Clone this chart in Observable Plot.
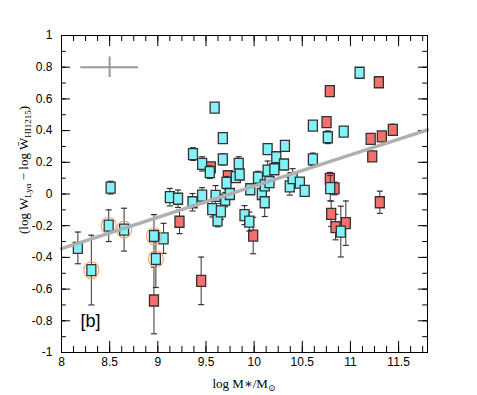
<!DOCTYPE html>
<html><head><meta charset="utf-8">
<script src="https://cdn.jsdelivr.net/npm/d3@7"></script>
<script src="https://cdn.jsdelivr.net/npm/@observablehq/plot@0.6"></script>
<style>html,body{margin:0;padding:0;background:#fff;}</style>
</head><body><div id="chart"></div>
<script>
// ---- data ----
const cyanX = [8.17,8.31,8.49,8.51,8.65,8.96,8.98,9.06,9.125,9.21,9.365,9.36,9.46,9.46,9.54,9.565,9.59,9.60,9.62,9.655,9.675,9.675,9.70,9.713,9.748,9.81,9.84,9.85,9.90,9.95,9.96,10.04,10.08,10.11,10.11,10.14,10.14,10.16,10.21,10.23,10.31,10.32,10.37,10.40,10.475,10.525,10.61,10.61,10.765,10.79,10.90,10.93,11.095];
const cyanY = [-0.34,-0.48,-0.20,0.04,-0.225,-0.265,-0.41,-0.28,-0.02,-0.03,0.252,-0.052,0.19,-0.01,0.138,-0.095,0.545,-0.012,-0.167,-0.11,0.352,0.218,-0.035,0.07,0.0,0.106,0.19,0.123,-0.133,-0.174,0.03,0.103,0.0,0.054,-0.052,0.283,0.148,0.075,0.156,0.232,0.186,0.303,0.048,0.10,0.072,0.02,0.218,0.432,0.358,0.037,-0.237,0.394,0.765];
const cyanErr = [0.10,0.22,0.10,0.04,0.135,0.135,0.18,0.095,0.055,0.055,0.04,0.055,0.045,0.05,0.04,0.05,0.02,0.065,0.04,0.05,0.02,0.035,0.045,0.04,0.03,0.03,0.045,0.03,0.06,0.06,0.03,0.04,0.03,0.03,0.09,0.03,0.06,0.03,0.03,0.03,0.03,0.03,0.055,0.06,0.03,0.03,0.04,0.02,0.04,0.08,0.16,0.02,0.02];
const redX = [8.96,9.225,9.45,9.55,9.727,9.99,10.752,10.786,10.786,10.835,10.80,10.845,10.952,11.21,11.226,11.295,11.305,11.326,11.44];
const redY = [-0.672,-0.175,-0.548,0.168,0.112,-0.262,0.453,0.649,0.096,0.035,-0.125,-0.209,-0.184,0.348,0.237,0.705,-0.052,0.363,0.405];
const redErr = [0.21,0.075,0.15,0.03,0.03,0.115,0.03,0.02,0.04,0.04,0.08,0.08,0.14,0.02,0.02,0.02,0.07,0.02,0.035];
const circledX = [8.31,8.49,8.65,8.96,8.98];
const circledY = [-0.48,-0.20,-0.225,-0.265,-0.41];
const fitX = [8.0, 11.8];
const fitY = [-0.345, 0.405];
const crossX = [8.5], crossY = [0.8], crossDx = [0.3], crossDy = [0.065];
const panelLabel = ["[b]"], panelX = [8.3], panelY = [-0.8];
const xTicks = [8,8.5,9,9.5,10,10.5,11,11.5];
const yTicks = [-1,-0.8,-0.6,-0.4,-0.2,0,0.2,0.4,0.6,0.8,1];
const xMinor = d3.range(0,31).map(i => 8 + i*0.125).filter(v => v <= 11.8);
const yMinor = d3.range(0,21).map(i => -1 + i*0.1);

// ---- tables ----
const cyan = cyanX.map((x,i)=>({x, y: cyanY[i], e: cyanErr[i]}));
const red = redX.map((x,i)=>({x, y: redY[i], e: redErr[i]}));
const circled = circledX.map((x,i)=>({x, y: circledY[i]}));
const fit = fitX.map((x,i)=>({x, y: fitY[i]}));
const cross = crossX.map((x,i)=>({x, y: crossY[i], dx: crossDx[i], dy: crossDy[i]}));
const panel = panelLabel.map((t,i)=>({t, x: panelX[i], y: panelY[i]}));

// ---- symbols ----
const rectSym = {draw(ctx){ ctx.moveTo(-4.5,-5.5); ctx.lineTo(4.5,-5.5); ctx.lineTo(4.5,5.5); ctx.lineTo(-4.5,5.5); ctx.closePath(); }};
const capSym = {draw(ctx){ ctx.moveTo(-3,0); ctx.lineTo(3,0); }};
const ellSym = {draw(ctx){
  const rx = 7.5, ry = 8.5, k = 0.5523;
  ctx.moveTo(rx,0);
  ctx.bezierCurveTo(rx, k*ry, k*rx, ry, 0, ry);
  ctx.bezierCurveTo(-k*rx, ry, -rx, k*ry, -rx, 0);
  ctx.bezierCurveTo(-rx, -k*ry, -k*rx, -ry, 0, -ry);
  ctx.bezierCurveTo(k*rx, -ry, rx, -k*ry, rx, 0);
  ctx.closePath();
}};

const errMarks = (data) => [
  Plot.ruleX(data, {x: "x", y1: d => d.y - d.e, y2: d => d.y + d.e, stroke: "#333", strokeWidth: 1}),
  Plot.dot(data, {x: "x", y: d => d.y - d.e, symbol: capSym, stroke: "#333", strokeWidth: 1.2, fill: "none"}),
  Plot.dot(data, {x: "x", y: d => d.y + d.e, symbol: capSym, stroke: "#333", strokeWidth: 1.2, fill: "none"})
];

const cyanFill = "#80f2f8", redFill = "#f4706a";

const svg = Plot.plot({
  width: 477, height: 395,
  marginLeft: 61, marginRight: 50, marginTop: 35, marginBottom: 43,
  x: {domain: [8, 11.8]},
  y: {domain: [-1, 1]},
  style: {fontFamily: "'Liberation Sans', Arial, sans-serif", fontSize: "12px", background: "#fff", color: "#000"},
  marks: [
    // inward ticks on all four sides
    Plot.ruleX(xMinor, {x: d => d, y1: -1, y2: -1 + 0.038, stroke: "#000"}),
    Plot.ruleX(xMinor, {x: d => d, y1: 1, y2: 1 - 0.038, stroke: "#000"}),
    Plot.ruleX(xTicks, {x: d => d, y1: -1, y2: -1 + 0.07, stroke: "#000"}),
    Plot.ruleX(xTicks, {x: d => d, y1: 1, y2: 1 - 0.07, stroke: "#000"}),
    Plot.ruleY(yMinor, {y: d => d, x1: 8, x2: 8 + 0.05, stroke: "#000"}),
    Plot.ruleY(yMinor, {y: d => d, x1: 11.8, x2: 11.8 - 0.05, stroke: "#000"}),
    Plot.ruleY(yTicks, {y: d => d, x1: 8, x2: 8 + 0.093, stroke: "#000"}),
    Plot.ruleY(yTicks, {y: d => d, x1: 11.8, x2: 11.8 - 0.093, stroke: "#000"}),
    Plot.axisX(xTicks, {tickSize: 0, tickPadding: 5, tickFormat: d => String(d), label: null}),
    Plot.axisY(yTicks, {tickSize: 0, tickPadding: 9, tickFormat: d => String(d), label: null}),
    // error cross
    Plot.ruleY(cross, {y: "y", x1: d => d.x - d.dx, x2: d => d.x + d.dx, stroke: "#999", strokeWidth: 2}),
    Plot.ruleX(cross, {x: "x", y1: d => d.y - d.dy, y2: d => d.y + d.dy, stroke: "#999", strokeWidth: 2}),
    // red points
    ...errMarks(red),
    Plot.dot(red, {x: "x", y: "y", symbol: rectSym, fill: redFill, stroke: "#333", strokeWidth: 1.3, fillOpacity: 1}),
    // cyan points
    ...errMarks(cyan),
    Plot.dot(cyan, {x: "x", y: "y", symbol: rectSym, fill: cyanFill, stroke: "#333", strokeWidth: 1.3, fillOpacity: 1}),
    Plot.dot(circled, {x: "x", y: "y", symbol: ellSym, fill: "none", stroke: "#f2a06a", strokeWidth: 1.1}),
    // fit line
    Plot.line(fit, {x: "x", y: "y", stroke: "#b0b0b0", strokeWidth: 3.5}),
    Plot.text(panel, {x: "x", y: "y", text: "t", fontSize: 18, fill: "#000"}),
    Plot.frame({stroke: "#000", strokeWidth: 1})
  ]
});

const s = d3.select(svg);
// y-axis title
const yt = s.append("text")
  .attr("transform", "translate(28,170) rotate(-90)")
  .attr("text-anchor", "middle")
  .attr("font-family", "'Liberation Serif', 'DejaVu Serif', serif")
  .attr("font-size", 13)
  .attr("fill", "#000");
yt.append("tspan").text("(log W");
yt.append("tspan").attr("font-size", 9).attr("dy", 3).text("Lyα");
yt.append("tspan").attr("dy", -3).text(" − log W\u0304");
yt.append("tspan").attr("font-size", 9).attr("dy", 3).text("HI1215");
yt.append("tspan").attr("dy", -3).text(")");
// x-axis title
const xt = s.append("text")
  .attr("x", 244).attr("y", 388)
  .attr("text-anchor", "middle")
  .attr("font-family", "'Liberation Serif', 'DejaVu Serif', serif")
  .attr("font-size", 13)
  .attr("fill", "#000");
xt.append("tspan").text("log M\u2217/M");
xt.append("tspan").attr("font-size", 9).attr("dy", 3).text("⊙");

document.getElementById("chart").appendChild(svg);
</script>
</body></html>
